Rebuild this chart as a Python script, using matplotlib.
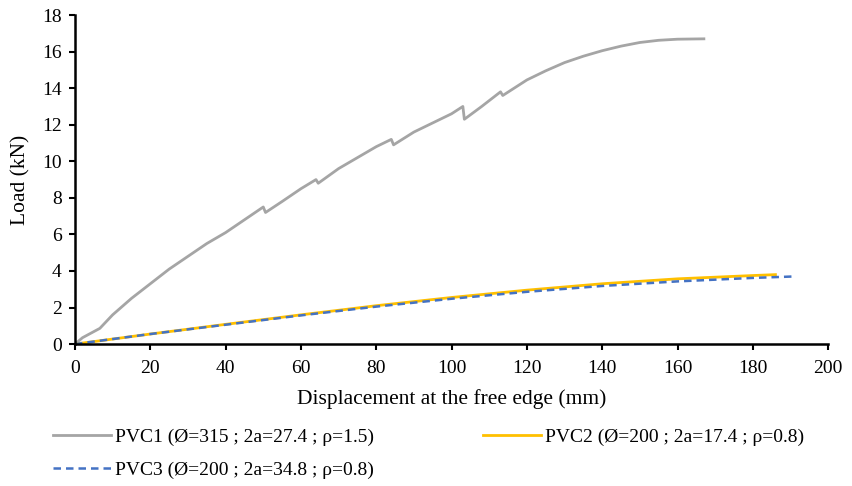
import matplotlib
matplotlib.use("Agg")
import matplotlib.pyplot as plt

plt.rcParams['font.family'] = ['Liberation Serif', 'DejaVu Serif']

# PVC1 (grey) load-displacement with small load drops
pvc1_x = [0, 2, 6.6, 10, 15, 20, 25, 30, 35, 40, 45, 50, 50.6, 55, 60, 64, 64.6,
          70, 75, 80, 84, 84.6, 90, 95, 100, 103, 103.4, 108, 113, 113.6,
          120, 125, 130, 135, 140, 145, 150, 155, 160, 167]
pvc1_y = [0, 0.35, 0.86, 1.6, 2.5, 3.3, 4.1, 4.8, 5.5, 6.1, 6.8, 7.5, 7.2, 7.8, 8.5, 9.0, 8.8,
          9.6, 10.2, 10.8, 11.2, 10.9, 11.6, 12.1, 12.6, 13.0, 12.3, 13.0, 13.8, 13.6,
          14.45, 14.95, 15.4, 15.75, 16.05, 16.3, 16.5, 16.62, 16.68, 16.7]

pvc2_x = [0, 20, 40, 60, 80, 100, 120, 140, 160, 180, 186]
pvc2_y = [0, 0.55, 1.08, 1.6, 2.1, 2.55, 2.95, 3.3, 3.57, 3.75, 3.8]

pvc3_x = [0, 20, 40, 60, 80, 100, 120, 140, 160, 180, 191]
pvc3_y = [0, 0.55, 1.06, 1.57, 2.05, 2.48, 2.86, 3.18, 3.43, 3.62, 3.7]

labels = ["PVC1 (Ø=315 ; 2a=27.4 ; ρ=1.5)",
          "PVC2 (Ø=200 ; 2a=17.4 ; ρ=0.8)",
          "PVC3 (Ø=200 ; 2a=34.8 ; ρ=0.8)"]

fig = plt.figure(figsize=(8.52, 4.86), dpi=100)
ax = fig.add_axes([0.088, 0.292, 0.884, 0.677])

l1, = ax.plot(pvc1_x, pvc1_y, color='#A5A5A5', lw=2.0, label=labels[0])
l2, = ax.plot(pvc2_x, pvc2_y, color='#FFC000', lw=2.0, label=labels[1])
l3, = ax.plot(pvc3_x, pvc3_y, color='#4472C4', lw=1.8, ls=(0, (3, 2)), label=labels[2])

ax.set_xlim(0, 200)
ax.set_ylim(0, 18)
ax.set_xticks(range(0, 201, 20))
ax.set_yticks(range(0, 19, 2))
for s in ['top', 'right']:
    ax.spines[s].set_visible(False)
for s in ['left', 'bottom']:
    ax.spines[s].set_linewidth(1.8)
    ax.spines[s].set_color('black')
ax.tick_params(direction='out', length=4.5, width=1.5, labelsize=14, colors='black', pad=5)
ax.tick_params(axis='x', pad=7)
ax.set_xlabel('Displacement at the free edge (mm)', fontsize=15.5, labelpad=9)
ax.set_ylabel('Load (kN)', fontsize=15.5, labelpad=8)

fig.legend([l1, l3, l2], [labels[0], labels[2], labels[1]], ncol=2,
           loc='upper left', bbox_to_anchor=(0.062, 0.118), frameon=False,
           borderpad=0, borderaxespad=0,
           fontsize=14, handlelength=3.0, handletextpad=0.2, columnspacing=5.6,
           labelspacing=0.75)

fig.savefig('out.png', dpi=100)
